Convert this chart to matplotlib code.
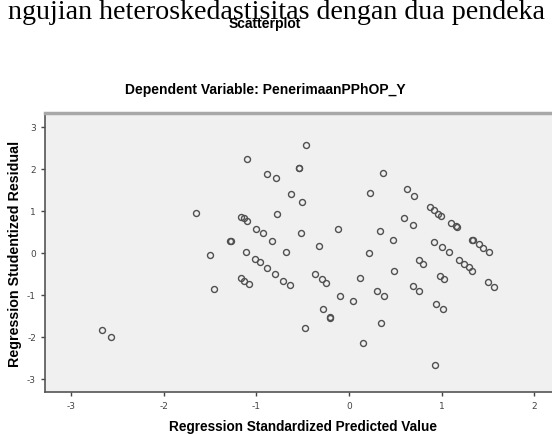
import matplotlib.pyplot as plt
import numpy as np

# standardized predicted value (x) and studentized residual (y)
pred = [-2.66, -2.57, -1.65, -1.50, -1.46, -1.28, -1.27, -1.16, -1.13, -1.10,
        -1.10, -1.11, -1.17, -1.13, -1.08, -1.01, -0.96, -0.89, -0.80, -0.71,
        -0.64, -1.00, -0.93, -0.83, -0.78, -0.88, -0.79, -0.63, -0.51, -0.54,
        -0.54, -0.46, -0.52, -0.68, -0.32, -0.12, -0.37, -0.29, -0.25, -0.10,
        0.04, -0.28, -0.20, -0.20, -0.47, 0.12, 0.22, 0.30, 0.38, 0.34,
        0.15, 0.33, 0.47, 0.48, 0.23, 0.37, 0.63, 0.70, 0.59, 0.69,
        0.87, 0.92, 0.96, 0.99, 1.10, 1.15, 1.17, 0.92, 1.00, 1.08,
        1.33, 1.34, 1.40, 1.45, 1.51, 0.75, 0.80, 1.19, 1.24, 1.29,
        1.33, 0.98, 1.02, 0.69, 0.76, 1.50, 1.56, 0.94, 1.01, 0.93]
resid = [-1.84, -2.01, 0.95, -0.06, -0.86, 0.29, 0.28, 0.85, 0.83, 0.75,
         2.24, 0.02, -0.60, -0.68, -0.75, -0.15, -0.22, -0.35, -0.51, -0.66,
         -0.76, 0.57, 0.47, 0.29, 0.92, 1.87, 1.79, 1.40, 1.21, 2.02,
         2.01, 2.58, 0.48, 0.02, 0.17, 0.57, -0.50, -0.62, -0.71, -1.02,
         -1.15, -1.34, -1.52, -1.54, -1.78, -0.59, -0.01, -0.90, -1.03, -1.67,
         -2.15, 0.52, 0.31, -0.44, 1.43, 1.91, 1.53, 1.35, 0.84, 0.67,
         1.10, 1.02, 0.93, 0.89, 0.71, 0.65, 0.61, 0.27, 0.15, 0.02,
         0.31, 0.30, 0.21, 0.12, 0.02, -0.16, -0.26, -0.18, -0.26, -0.34,
         -0.43, -0.54, -0.62, -0.79, -0.90, -0.70, -0.80, -1.21, -1.33, -2.67]

xticks = [-3, -2, -1, 0, 1, 2]
yticks = [-3, -2, -1, 0, 1, 2, 3]

plt.rcParams['axes.unicode_minus'] = False

fig = plt.figure(figsize=(5.52, 4.35), dpi=100)
ax = fig.add_axes([45/552, 1 - 393/435, 1 - 45/552, (393 - 114)/435])
ax.set_facecolor('#f0f0f0')

ax.plot(pred, resid, 'o', ms=4.3, mfc='none', mec='#505050', mew=1.0)

ax.set_xlim(-3.28, 2.19)
ax.set_ylim(-3.31, 3.33)
ax.set_xticks(xticks)
ax.set_yticks(yticks)
ax.tick_params(labelsize=6.5, colors='#444444', length=3, width=1)

ax.spines['right'].set_visible(False)
ax.spines['top'].set_color('#a8a8a8')
ax.spines['top'].set_linewidth(2.5)
for s in ['left', 'bottom']:
    ax.spines[s].set_color('#555555')
    ax.spines[s].set_linewidth(1.2)

ax.set_xlabel('Regression Standardized Predicted Value', fontsize=9.8,
              fontweight='bold', family='Liberation Sans', va='center')
ax.xaxis.set_label_coords((303 - 45) / 507, -0.123)
ax.set_ylabel('Regression Studentized Residual', fontsize=10.3,
              fontweight='bold', family='Liberation Sans')
ax.yaxis.set_label_coords(-0.046, 0.5)

# heading from the surrounding document, cropped in the original screenshot
fig.text(276 / 552, 1 - 19 / 435, 'ngujian heteroskedastisitas dengan dua pendeka',
         ha='center', va='baseline', fontsize=20.2, family='Liberation Serif')
fig.text(265 / 552, 1 - 24 / 435, 'Scatterplot', ha='center', va='center',
         fontsize=10, fontweight='bold', family='Liberation Sans')
fig.text(265 / 552, 1 - 90 / 435, 'Dependent Variable: PenerimaanPPhOP_Y',
         ha='center', va='center', fontsize=10, fontweight='bold',
         family='Liberation Sans')

plt.savefig('out.png', dpi=100)
